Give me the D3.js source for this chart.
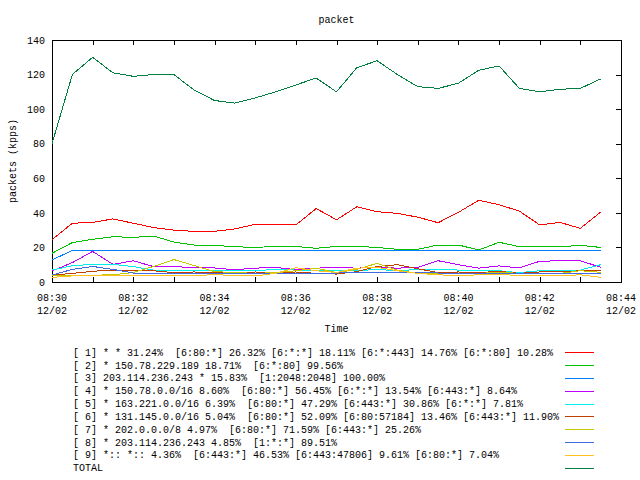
<!DOCTYPE html>
<html><head><meta charset="utf-8">
<script src="https://cdn.jsdelivr.net/npm/d3@7"></script>
<style>
html,body{margin:0;padding:0;background:#fff;}
text{font-family:"Liberation Mono","DejaVu Sans Mono",monospace;font-size:10px;fill:#000;}
</style></head>
<body><svg id="c" width="640" height="480"></svg>
<script>
const times = ["08:30:00","08:30:30","08:31:00","08:31:30","08:32:00","08:32:30","08:33:00","08:33:30",
  "08:34:00","08:34:30","08:35:00","08:35:30","08:36:00","08:36:30","08:37:00","08:37:30",
  "08:38:00","08:38:30","08:39:00","08:39:30","08:40:00","08:40:30","08:41:00","08:41:30",
  "08:42:00","08:42:30","08:43:00","08:43:30"];
const s1 = [24.5,34,34.5,36.5,34,31.5,30,29.3,29.3,30.7,33.4,33.4,33,42.5,36,43.5,40.7,39.7,37.5,34.3,40.3,47.3,44.7,41,33,34.5,31,40.5];
const s2 = [16.6,22.8,24.7,26.2,25.8,26.6,23.1,21.4,21.2,20.4,20,20.6,20.6,19.5,20.6,20.6,20,18.9,18.9,21.4,21.4,18.5,23,20.4,20.4,20.4,21.2,20];
const s3 = [12.7,18.3,18.3,18.3,18.3,18.3,18.3,18.3,18.3,18.3,18.3,18.3,18.3,18.3,18.3,18.3,18.3,18.3,18.3,18.3,18.3,18.3,18.3,18.3,18.3,18.3,18.3,18.3];
const s4 = [6.4,11.2,17.7,10.2,12.3,8.9,8.9,8.3,8.1,7.1,8,8.5,7.1,8,8.5,8,8.5,8,8.5,12.3,10,8,9.3,8.1,12,12.3,12.3,8.5];
const s5 = [6.9,9.4,10.2,10.2,8.9,6.9,6.9,6.4,6.5,6.5,6.5,7.3,6.9,6.5,6.9,6.5,7.3,6.5,7.3,7.3,6.9,6.9,6.5,5.4,6.5,6.5,6.9,10];
const s6 = [3.9,5,6.2,6.9,6.9,6.5,5.4,5.8,5.4,5,5.8,5,5.8,5,4.6,6,9,10,7.7,5.4,5.8,5.4,6.2,5,5.8,5.8,6.5,6.5];
const s7 = [3.5,3.9,3.9,4.2,5.5,9,13,9.5,6,5.5,5,5.4,6.5,8,5.4,7.3,10.8,6.9,5,5,5,5,5.6,5,5,5,6.5,5.6];
const s8 = [4,7.3,9,7.3,5.2,5.2,5.2,5.2,5.2,5,5,5,5,5,5.2,5.4,5.4,5.4,5.4,5.2,5.2,5,5,5,5,5,5,5];
const s9 = [2.7,3.5,3.5,3.5,3.5,3.5,3.5,3.5,4.4,3.5,3.5,5,8.3,6.5,5.5,8,8.5,6.5,5,4.2,3.5,4.2,4.2,3.9,3.9,3.5,4.2,2.7];
const total = [80,120,130,121,119,120,120,111,105,103.5,106.5,110,114,118,110,124,128,120,113,112,115,122.5,125,112,110,111.5,112,117.5];
const seriesNames = [
 "[ 1] * * 31.24%  [6:80:*] 26.32% [6:*:*] 18.11% [6:*:443] 14.76% [6:*:80] 10.28%",
 "[ 2] * 150.78.229.189 18.71%  [6:*:80] 99.56%",
 "[ 3] 203.114.236.243 * 15.83%  [1:2048:2048] 100.00%",
 "[ 4] * 150.78.0.0/16 8.60%  [6:80:*] 56.45% [6:*:*] 13.54% [6:443:*] 8.64%",
 "[ 5] * 163.221.0.0/16 6.39%  [6:80:*] 47.29% [6:443:*] 30.86% [6:*:*] 7.81%",
 "[ 6] * 131.145.0.0/16 5.04%  [6:80:*] 52.09% [6:80:57184] 13.46% [6:443:*] 11.90%",
 "[ 7] * 202.0.0.0/8 4.97%  [6:80:*] 71.59% [6:443:*] 25.26%",
 "[ 8] * 203.114.236.243 4.85%  [1:*:*] 89.51%",
 "[ 9] *:: *:: 4.36%  [6:443:*] 46.53% [6:443:47806] 9.61% [6:80:*] 7.04%",
 "TOTAL"];
const colors = ["#ff0000","#00c000","#0080ff","#c000ff","#00eeee","#c04000","#c8c800","#4169e1","#ffc020","#008040"];
const yTicks = [0,20,40,60,80,100,120,140];
const xTickLabels = ["08:30","08:32","08:34","08:36","08:38","08:40","08:42","08:44"];
const xDateLabel = "12/02";
const titleText = "packet", xTitle = "Time", yTitle = "packets (kpps)";

const svg = d3.select("#c");
const parse = d3.timeParse("%H:%M:%S");
const L = 52, R = 621, T = 40, B = 282;
const x = d3.scaleTime().domain([parse("08:30:00"), parse("08:44:00")]).range([L, R]);
const y = d3.scaleLinear().domain([0, 140]).range([B, T]);

svg.append("rect").attr("width",640).attr("height",480).attr("fill","#fff");

// x ticks (inward, bottom and top) every minute
const minuteTicks = d3.timeMinute.range(parse("08:30:00"), parse("08:44:30"));
const xb = svg.append("g").attr("transform",`translate(0,${B})`)
  .call(d3.axisBottom(x).tickValues(minuteTicks).tickSizeInner(-5).tickSizeOuter(0).tickFormat(""));
const xt = svg.append("g").attr("transform",`translate(0,${T})`)
  .call(d3.axisTop(x).tickValues(minuteTicks).tickSizeInner(-5).tickSizeOuter(0).tickFormat(""));
// y ticks on the right, inward
const yr = svg.append("g").attr("transform",`translate(${R},0)`)
  .call(d3.axisRight(y).tickValues(yTicks).tickSizeInner(-5).tickSizeOuter(0).tickFormat(""));
// y labels on the left
const yl = svg.append("g").attr("transform",`translate(${L},0)`)
  .call(d3.axisLeft(y).tickValues(yTicks).tickSize(0).tickPadding(7).tickFormat(d3.format("d")));
[xb,xt,yr,yl].forEach(g=>{g.select(".domain").remove(); g.selectAll("line").attr("stroke","#000").attr("shape-rendering","crispEdges");});
yl.selectAll("text").attr("font-family",null).attr("font-size",null).attr("fill","#000");

// x labels
xTickLabels.forEach(t=>{
  const xx = x(parse(t+":00"));
  const g = svg.append("text").attr("x",xx).attr("y",301).attr("text-anchor","middle");
  g.append("tspan").attr("x",xx).attr("y",301).text(t);
  g.append("tspan").attr("x",xx).attr("y",314).text(xDateLabel);
});

// border
svg.append("rect").attr("x",L).attr("y",T).attr("width",R-L).attr("height",B-T)
  .attr("fill","none").attr("stroke","#000").attr("shape-rendering","crispEdges");

// titles
svg.append("text").attr("x",(L+R)/2).attr("y",23).attr("text-anchor","middle").text(titleText);
svg.append("text").attr("x",(L+R)/2).attr("y",332).attr("text-anchor","middle").text(xTitle);
svg.append("text").attr("transform",`translate(16,${(T+B)/2}) rotate(-90)`).attr("text-anchor","middle").text(yTitle);

// lines
const allSeries = [s1,s2,s3,s4,s5,s6,s7,s8,s9,total];
const line = d3.line().x((d,i)=>x(parse(times[i]))).y(d=>y(d));
allSeries.forEach((s,k)=>{
  svg.append("path").datum(s).attr("d",line).attr("fill","none")
    .attr("stroke",colors[k]).attr("stroke-width",1).attr("shape-rendering","crispEdges");
});

// legend
seriesNames.forEach((n,k)=>{
  const cy = 352.3 + 12.82*k;
  svg.append("text").attr("x",73).attr("y",cy+3.5).attr("xml:space","preserve").style("white-space","pre").text(n);
  svg.append("line").attr("x1",565).attr("x2",594).attr("y1",Math.round(cy)+0.5).attr("y2",Math.round(cy)+0.5)
    .attr("stroke",colors[k]).attr("stroke-width",1).attr("shape-rendering","crispEdges");
});
</script></body></html>
